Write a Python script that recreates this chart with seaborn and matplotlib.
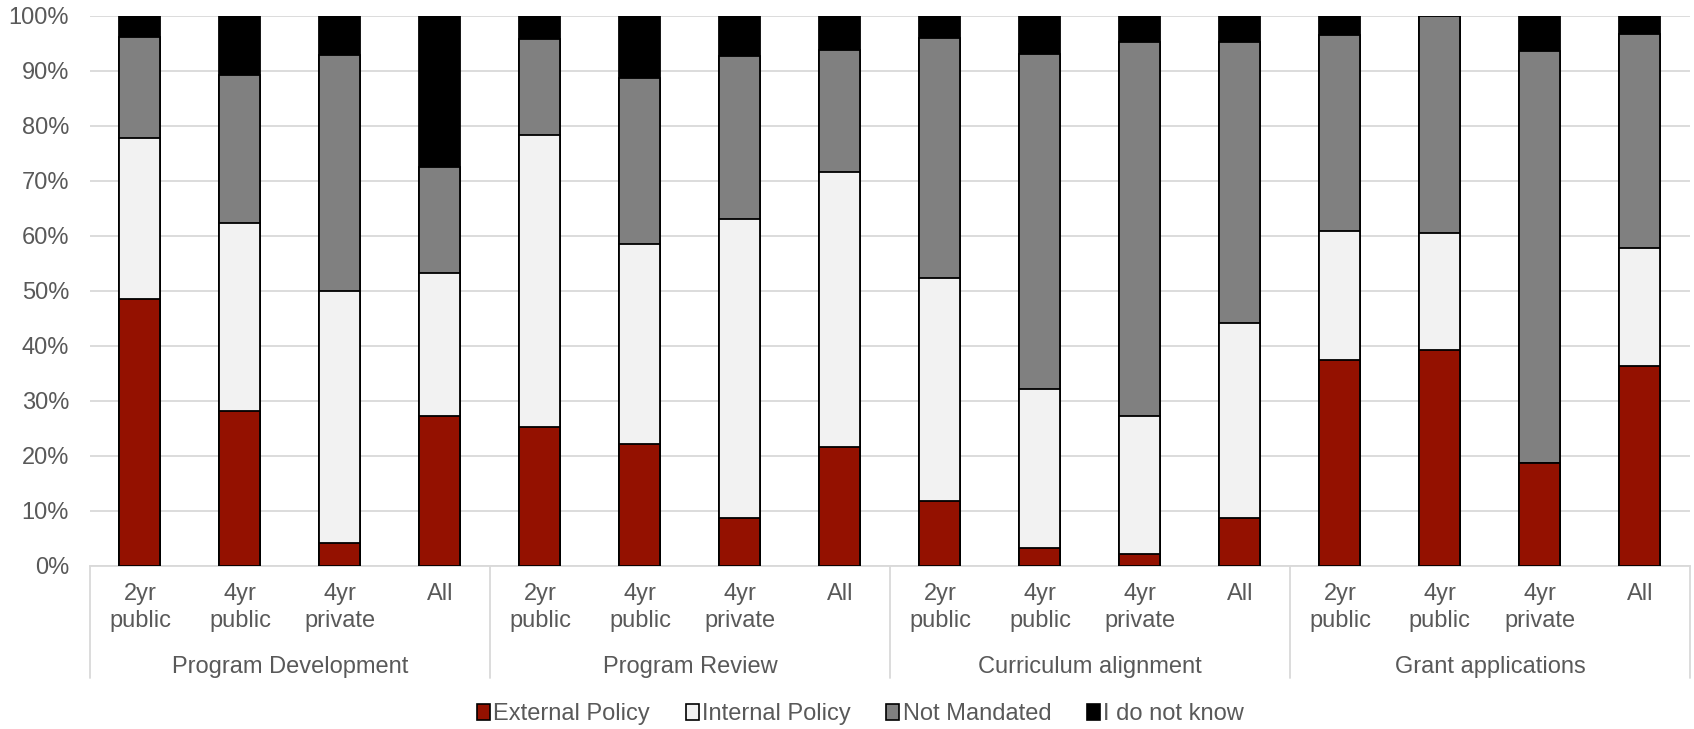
import numpy as np
import pandas as pd
import matplotlib
matplotlib.use("Agg")
import matplotlib.pyplot as plt
from matplotlib.patches import Patch
from matplotlib.transforms import blended_transform_factory
import seaborn as sns

# Survey shares (%) per activity and institution type
activities = ["Program Development", "Program Review", "Curriculum alignment", "Grant applications"]
institutions = ["2yr\npublic", "4yr\npublic", "4yr\nprivate", "All"]

external_policy = [48.5, 28.2, 4.1, 27.3,
                   25.3, 22.2, 8.7, 21.7,
                   11.9, 3.3, 2.2, 8.7,
                   37.4, 39.3, 18.7, 36.3]
internal_policy = [29.3, 34.2, 45.9, 25.9,
                   53.0, 36.4, 54.4, 49.9,
                   40.4, 28.9, 25.0, 35.5,
                   23.4, 21.3, 0.0, 21.4]
not_mandated = [18.3, 26.8, 42.9, 19.3,
                17.5, 30.1, 29.6, 22.2,
                43.7, 60.8, 68.1, 51.1,
                35.6, 39.4, 74.8, 39.0]
do_not_know = [3.9, 10.8, 7.1, 27.5,
               4.2, 11.3, 7.3, 6.2,
               4.0, 7.0, 4.7, 4.7,
               3.6, 0.0, 6.5, 3.3]

series_names = ["External Policy", "Internal Policy", "Not Mandated", "I do not know"]
series_colors = ["#941100", "#f2f2f2", "#808080", "#000000"]

sns.set_theme(style="white")
plt.rcParams["font.family"] = ["Liberation Sans", "DejaVu Sans"]

FS = 17
TXT = "#595959"

rows = []
for gi, act in enumerate(activities):
    for ii, inst in enumerate(institutions):
        k = gi * 4 + ii
        rows.append({
            "key": f"{act}|{inst}",
            "External Policy": external_policy[k],
            "Internal Policy": internal_policy[k],
            "Not Mandated": not_mandated[k],
            "I do not know": do_not_know[k],
        })
df = pd.DataFrame(rows)
order = list(df["key"])

# cumulative heights so each segment is drawn as an overlapping stack
cum = df[series_names].cumsum(axis=1)

fig = plt.figure(figsize=(16.94, 7.29), dpi=100)
ax = fig.add_axes([0.0531, 0.2236, 0.9445, 0.7549])

for name, color in reversed(list(zip(series_names, series_colors))):
    sns.barplot(x=df["key"], y=cum[name], order=order, color=color,
                width=0.41, edgecolor="black", linewidth=1.3,
                saturation=1, ax=ax, zorder=3)

ax.set_xlim(-0.5, len(order) - 0.5)
ax.set_ylim(0, 100)
ax.set_yticks(np.arange(0, 101, 10))
ax.set_yticklabels([f"{v}%" for v in range(0, 101, 10)])
ax.yaxis.grid(True, color="#d9d9d9", linewidth=1.3, zorder=0)
ax.set_axisbelow(True)
for s in ["left", "right", "top"]:
    ax.spines[s].set_visible(False)
ax.spines["bottom"].set_color("#d9d9d9")
ax.spines["bottom"].set_linewidth(1.3)

ax.set_xticks(range(len(order)))
ax.set_xticklabels(institutions * len(activities), linespacing=1.3)
ax.tick_params(axis="x", length=0, pad=12, labelsize=FS, labelcolor=TXT)
ax.tick_params(axis="y", length=0, pad=15, labelsize=FS, labelcolor=TXT)
ax.set_xlabel("")
ax.set_ylabel("")

# group labels and separators below the axis
trans = blended_transform_factory(ax.transData, ax.transAxes)
sep_bottom = -0.2035
for gi, act in enumerate(activities):
    ax.text(gi * 4 + 1.5, -0.183, act, transform=trans, ha="center", va="center",
            fontsize=FS, color=TXT)
for b in np.arange(-0.5, len(order), 4):
    ax.plot([b, b], [0, sep_bottom], transform=trans, color="#d9d9d9",
            linewidth=1.3, clip_on=False)

handles = [Patch(facecolor=c, edgecolor="black", linewidth=1.2, label=n)
           for n, c in zip(series_names, series_colors)]
fig.legend(handles=handles, loc="center", bbox_to_anchor=(0.508, 0.02), ncol=4,
           frameon=False, fontsize=FS, handlelength=0.55, handleheight=0.65,
           handletextpad=0.15, columnspacing=1.5, labelcolor=TXT)

fig.savefig("out.png", dpi=100)
